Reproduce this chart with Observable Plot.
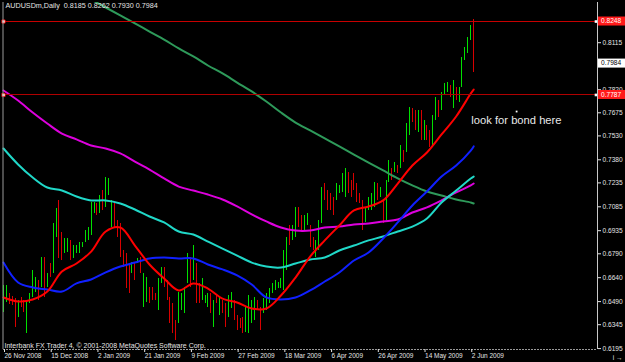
<!DOCTYPE html>
<html><head><meta charset="utf-8">
<script src="https://cdn.jsdelivr.net/npm/d3@7"></script>
<script src="https://cdn.jsdelivr.net/npm/@observablehq/plot@0.6"></script>
<style>html,body{margin:0;padding:0;background:#000;overflow:hidden}</style>
</head><body><div id="chart"></div>
<script>
// ---- Daily bars (bar index 0 = 26 Nov 2008) ----
const highs = [
0.6591,0.6591,0.6541,0.6522,0.6509,0.6497,0.6516,0.6497,0.6497,0.6541,
0.6685,0.6641,0.6622,0.6767,0.6767,0.6666,0.6729,0.6980,0.7075,0.7125,
0.6924,0.6886,0.6886,0.6874,0.6843,0.6843,0.6861,0.6861,0.6936,0.6955,
0.7112,0.7112,0.7106,0.7156,0.7187,0.7269,0.7263,0.7125,0.7112,0.6999,
0.6980,0.6811,0.6792,0.6729,0.6736,0.6736,0.6761,0.6767,0.6666,0.6641,
0.6579,0.6579,0.6541,0.6635,0.6704,0.6704,0.6622,0.6516,0.6478,0.6371,
0.6547,0.6541,0.6579,0.6792,0.6767,0.6843,0.6729,0.6603,0.6635,0.6528,
0.6541,0.6541,0.6497,0.6528,0.6516,0.6497,0.6478,0.6528,0.6547,0.6497,
0.6403,0.6384,0.6390,0.6453,0.6528,0.6497,0.6516,0.6497,0.6453,0.6509,
0.6541,0.6572,0.6603,0.6622,0.6610,0.6635,0.6811,0.6893,0.6968,0.6968,
0.7081,0.7081,0.7030,0.7030,0.7043,0.6968,0.6893,0.6874,0.6999,0.7206,
0.7231,0.7187,0.7168,0.7143,0.7231,0.7219,0.7294,0.7326,0.7300,0.7250,
0.7294,0.7231,0.7168,0.7125,0.7081,0.7143,0.7168,0.7237,0.7231,0.7206,
0.7125,0.7250,0.7376,0.7326,0.7363,0.7344,0.7470,0.7438,0.7608,0.7708,
0.7702,0.7690,0.7690,0.7690,0.7627,0.7596,0.7564,0.7658,0.7771,0.7752,
0.7803,0.7859,0.7865,0.7846,0.7878,0.7834,0.7834,0.8022,0.8085,0.8148,
0.8223,0.8262];
const lows = [
0.6421,0.6484,0.6472,0.6466,0.6327,0.6390,0.6453,0.6421,0.6290,0.6478,
0.6516,0.6547,0.6497,0.6579,0.6516,0.6579,0.6641,0.6666,0.6893,0.6761,
0.6748,0.6792,0.6798,0.6748,0.6761,0.6792,0.6792,0.6830,0.6861,0.6874,
0.6905,0.7043,0.7030,0.7043,0.7062,0.7081,0.7156,0.6955,0.6955,0.6893,
0.6767,0.6704,0.6572,0.6541,0.6666,0.6622,0.6729,0.6666,0.6453,0.6484,
0.6478,0.6497,0.6497,0.6434,0.6603,0.6579,0.6497,0.6352,0.6290,0.6246,
0.6352,0.6434,0.6415,0.6603,0.6579,0.6622,0.6478,0.6478,0.6497,0.6478,
0.6453,0.6415,0.6327,0.6478,0.6403,0.6415,0.6327,0.6390,0.6447,0.6371,
0.6309,0.6321,0.6290,0.6296,0.6290,0.6352,0.6371,0.6434,0.6309,0.6415,
0.6434,0.6478,0.6541,0.6560,0.6572,0.6572,0.6560,0.6685,0.6843,0.6874,
0.6893,0.6955,0.6924,0.6936,0.6968,0.6830,0.6811,0.6767,0.6811,0.6980,
0.7125,0.7062,0.7062,0.7030,0.7125,0.7168,0.7175,0.7143,0.7168,0.7143,
0.7187,0.7112,0.7106,0.6936,0.6986,0.7062,0.7062,0.7081,0.7125,0.7143,
0.6980,0.6999,0.7237,0.7250,0.7300,0.7294,0.7326,0.7363,0.7426,0.7533,
0.7614,0.7564,0.7551,0.7501,0.7501,0.7501,0.7457,0.7457,0.7627,0.7646,
0.7690,0.7784,0.7803,0.7771,0.7702,0.7752,0.7740,0.7834,0.8003,0.8047,
0.8129,0.7930];
// G = up bar, R = down bar
const barDir = ("GGRRRGRRGG"+"GGRGRGRGGR"+"RGGRGGGGGG"+"GGRGRGGGRR"+"RRRRGRGRGG"+
                "RRRGGRRRRR"+"GGGGRGRRGG"+"GRGRGRRGGR"+"RRRGGGGRRG"+"GGGGGGGGRG"+
                "GRRGGRRGGG"+"RRRRGGGGRR"+"RRRRGGGGRG"+"RGGRGRGRGG"+"RRGRGRRGGR"+
                "GGGRGRGGGG"+"GR").split("");

// ---- Moving averages, sampled at these bar indices ----
const maIdx = [0,5,10,15,20,25,30,35,40,45,50,55,60,65,70,75,80,85,90,95,100,105,110,115,120,125,130,135,140,145,150,155,160,161];
const maRed = [0.6516,0.6491,0.6503,0.6553,0.6679,0.6729,0.6804,0.6930,0.6955,0.6842,0.6723,0.6635,0.6560,0.6604,0.6572,0.6509,0.6484,0.6447,0.6447,0.6528,0.6641,0.6773,0.6874,0.6968,0.7062,0.7087,0.7125,0.7231,0.7344,0.7426,0.7539,0.7652,0.7796,0.7821];
const maBlue = [0.6735,0.6610,0.6579,0.6566,0.6553,0.6604,0.6629,0.6673,0.6710,0.6735,0.6761,0.6767,0.6761,0.6761,0.6723,0.6692,0.6654,0.6597,0.6516,0.6503,0.6516,0.6560,0.6616,0.6673,0.6748,0.6798,0.6886,0.6987,0.7093,0.7181,0.7275,0.7344,0.7438,0.7464];
const maCyan = [0.7451,0.7351,0.7269,0.7206,0.7187,0.7150,0.7125,0.7125,0.7106,0.7068,0.7024,0.6987,0.6930,0.6911,0.6867,0.6823,0.6779,0.6735,0.6710,0.6704,0.6729,0.6754,0.6767,0.6811,0.6842,0.6874,0.6899,0.6930,0.6961,0.7012,0.7112,0.7187,0.7263,0.7275];
const maMagenta = [0.7815,0.7752,0.7677,0.7608,0.7545,0.7508,0.7470,0.7451,0.7420,0.7369,0.7319,0.7263,0.7212,0.7187,0.7162,0.7131,0.7087,0.7037,0.6993,0.6955,0.6936,0.6936,0.6955,0.6961,0.6974,0.6980,0.6993,0.7005,0.7049,0.7081,0.7125,0.7175,0.7219,0.7231];
const maGreen = [null,null,null,null,null,0.8436,0.8386,0.8336,0.8286,0.8236,0.8185,0.8135,0.8079,0.8029,0.7972,0.7922,0.7865,0.7809,0.7746,0.7677,0.7614,0.7564,0.7514,0.7464,0.7413,0.7363,0.7313,0.7263,0.7219,0.7181,0.7156,0.7131,0.7112,0.7106];

// ---- Axes / annotations ----
const xTicks = [0,16,32,48,64,80,96,112,128,144,160];
const xLabels = ["26 Nov 2008","15 Dec 2008","2 Jan 2009","21 Jan 2009","9 Feb 2009","27 Feb 2009","18 Mar 2009","6 Apr 2009","26 Apr 2009","14 May 2009","2 Jun 2009"];
const yTicks = [0.8115,0.7820,0.7675,0.7530,0.7380,0.7235,0.7085,0.6935,0.6790,0.6640,0.6490,0.6345,0.6195];
const hLines = [0.8248, 0.7787];
const bidPrice = 0.7984;
const titleText = "AUDUSDm,Daily\u00a0\u00a00.8185 0.8262 0.7930 0.7984";
const copyrightText = "Interbank FX Trader 4, \u00a9 2001-2008 MetaQuotes Software Corp.";
const notes = [{text: "look for bond here", i: 160.2, price: 0.7605}];
const noteDot = [{i: 175.7, price: 0.7683}];

// ---- Build ----
const bars = highs.map((h, i) => ({i, high: h, low: lows[i], up: barDir[i] === "G"}));
const ma = vals => maIdx.map((i, k) => ({i, v: vals[k]})).filter(d => d.v != null);

const W = 625, H = 362, mL = 3, mR = 28, mT = 2, mB = 13;
const xDom = [0, 203.4], yDom = [0.61893, 0.83674];
const txt = "#e4e4e4", frameCol = "#9a9a9a";
const font = "'Liberation Sans', Arial, sans-serif";

const plot = Plot.plot({
  width: W, height: H, marginLeft: mL, marginRight: mR, marginTop: mT, marginBottom: mB,
  style: {background: "#000", color: txt, fontFamily: font, fontSize: "6.6px", overflow: "visible"},
  x: {domain: xDom, axis: null},
  y: {domain: yDom, axis: null},
  marks: [
    Plot.ruleX(bars.filter(d => d.up), {x: "i", y1: "low", y2: "high", stroke: "#00e000", strokeWidth: 1, shapeRendering: "crispEdges"}),
    Plot.ruleX(bars.filter(d => !d.up), {x: "i", y1: "low", y2: "high", stroke: "#d80000", strokeWidth: 1, shapeRendering: "crispEdges"}),
    Plot.line(ma(maGreen), {x: "i", y: "v", stroke: "#2e9a5a", strokeWidth: 2, curve: "catmull-rom", clip: true}),
    Plot.line(ma(maMagenta), {x: "i", y: "v", stroke: "#dd00dd", strokeWidth: 2, curve: "catmull-rom"}),
    Plot.line(ma(maCyan), {x: "i", y: "v", stroke: "#20d8c8", strokeWidth: 2, curve: "catmull-rom"}),
    Plot.line(ma(maBlue), {x: "i", y: "v", stroke: "#1020ff", strokeWidth: 2, curve: "catmull-rom"}),
    Plot.line(ma(maRed), {x: "i", y: "v", stroke: "#ff0000", strokeWidth: 2, curve: "catmull-rom"}),
    Plot.ruleY([hLines[0]], {stroke: "#c80000", strokeWidth: 1, shapeRendering: "crispEdges"}),
    Plot.ruleY([hLines[1]], {stroke: "#b00000", strokeWidth: 1, shapeRendering: "crispEdges"}),
    Plot.dot(hLines, {x: xDom[0], y: d => d, symbol: "square", r: 1.8, fill: "#fff", stroke: "#f00", strokeWidth: 0.8}),
    Plot.dot(hLines, {x: xDom[1], y: d => d, symbol: "square", r: 1.5, fill: "#fff", dx: -1.5}),
    // frame
    Plot.ruleX([xDom[0]], {stroke: frameCol, dx: -0.5}),
    Plot.ruleX([xDom[1]], {stroke: "#c8c8c8"}),
    Plot.ruleY([yDom[0]], {stroke: frameCol, strokeDasharray: "2,1"}),
    // axes
    Plot.axisY(yTicks, {anchor: "right", tickSize: 3, tickPadding: 2, tickFormat: d => d.toFixed(4), fontSize: 6.6, fill: txt}),
    Plot.axisX(xTicks, {anchor: "bottom", tickSize: 3, tickPadding: 1, tickFormat: d => xLabels[xTicks.indexOf(d)], textAnchor: "start", dx: 1, fontSize: 6.5, fill: txt}),
    // texts
    Plot.text([titleText], {frameAnchor: "top-left", dx: 2, dy: 0, lineAnchor: "top", textAnchor: "start", fill: txt, fontSize: 7.2}),
    Plot.text([copyrightText], {frameAnchor: "bottom-left", dx: 1, dy: -2, lineAnchor: "bottom", textAnchor: "start", fill: txt, fontSize: 7}),
    Plot.text(notes, {x: "i", y: "price", text: "text", textAnchor: "start", lineAnchor: "bottom", fill: "#e8e8e8", fontSize: 11.2}),
    Plot.dot(noteDot, {x: "i", y: "price", symbol: "square", r: 1, fill: "#fff"})
  ]
});
document.getElementById("chart").appendChild(plot);

// price label boxes on the right axis
const ys = plot.scale("y");
const svg = d3.select(plot);
const boxes = [
  {v: hLines[0], bg: "#ff1a1a", fg: "#ffffff"},
  {v: bidPrice, bg: "#ffffff", fg: "#000000"},
  {v: hLines[1], bg: "#ff1a1a", fg: "#ffffff"}
];
const g = svg.append("g").attr("text-anchor", "start");
boxes.forEach(b => {
  const y = ys.apply(b.v);
  g.append("rect").attr("x", W - mR + 1).attr("y", y - 4.5).attr("width", mR - 1).attr("height", 9).attr("fill", b.bg);
  g.append("text").attr("x", W - mR + 4).attr("y", y).attr("dy", "0.35em").attr("text-anchor", "start")
    .attr("fill", b.fg).attr("font-size", 6.6).attr("font-family", font)
    .text(b.v.toFixed(4));
});
</script>
</body></html>
